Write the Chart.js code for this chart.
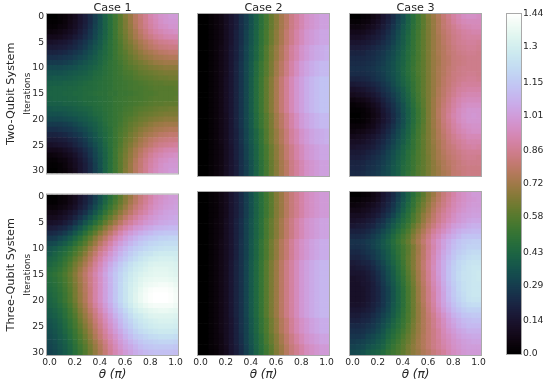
<!DOCTYPE html>
<html>
<head>
<meta charset="utf-8">
<style>
    html, body { margin: 0; padding: 0; background: #fff; }
    body { position: relative; width: 550px; height: 382px; overflow: hidden; }
    canvas { position: absolute; filter: blur(0.35px); }
</style>
<script src="https://cdn.jsdelivr.net/npm/chart.js@4/dist/chart.umd.min.js"></script>
</head>
<body>
<canvas id="twoCase1"></canvas>
<canvas id="twoCase2"></canvas>
<canvas id="twoCase3"></canvas>
<canvas id="threeCase1"></canvas>
<canvas id="threeCase2"></canvas>
<canvas id="threeCase3"></canvas>
<canvas id="colorbar"></canvas>
<script>
// axis labels
const iterationLabels = ['0','1','2','3','4','5','6','7','8','9','10','11','12','13','14','15','16','17','18','19','20','21','22','23','24','25','26','27','28','29','30'];
const thetaTickColumns = [0, 5, 10, 15, 20, 25];
const thetaTickLabels = ['0.0', '0.2', '0.4', '0.6', '0.8', '1.0'];
const colorbarTicks = [0.0, 0.14, 0.29, 0.43, 0.58, 0.72, 0.86, 1.01, 1.15, 1.3, 1.44];
const colorbarTickLabels = ['0.0', '0.14', '0.29', '0.43', '0.58', '0.72', '0.86', '1.01', '1.15', '1.3', '1.44'];
const colorbarMax = 1.44;

const twoCase1Half = [
[0,0,2,3,6,9,14,18,23,29,34,41,47,53,59,66,71,77,82,86,91,94,97,98,100,100],
[1,1,2,4,7,10,14,18,23,29,35,41,47,53,59,65,71,77,81,86,90,93,96,98,99,99],
[2,2,4,5,8,11,15,19,24,30,35,41,47,53,59,65,70,76,81,85,89,92,95,96,98,98],
[4,5,6,8,10,13,17,21,26,31,36,41,47,53,59,64,69,74,79,83,87,90,92,94,95,96],
[8,8,9,11,13,16,19,23,27,32,37,42,47,53,58,63,68,73,77,81,84,87,89,91,92,92],
[12,13,14,15,17,20,23,26,30,34,38,43,48,52,57,62,66,70,74,77,80,83,85,86,87,88],
[16,16,17,18,20,22,25,28,32,36,39,44,48,52,56,61,64,68,72,75,78,80,82,83,84,84],
[20,20,21,22,24,26,28,31,34,37,41,44,48,52,56,59,63,66,69,72,74,76,78,79,80,80],
[24,24,25,26,27,29,31,33,36,39,42,45,48,52,55,58,61,64,67,69,71,73,74,75,76,76],
[28,28,28,29,30,32,34,36,38,40,43,46,49,51,54,57,60,62,64,66,68,70,71,72,72,72],
[32,32,32,33,34,35,37,38,40,42,44,47,49,51,53,56,58,60,62,63,65,66,67,68,68,68],
[35,35,35,36,37,38,39,40,42,44,45,47,49,51,53,55,56,58,60,61,62,63,64,65,65,65],
[37,38,38,38,39,40,41,42,43,45,46,48,49,51,52,54,55,57,58,59,60,61,62,62,63,63],
[40,40,40,41,41,42,43,44,45,46,47,48,49,51,52,53,54,55,56,57,58,59,59,60,60,60],
[41,42,42,42,43,43,44,45,45,46,47,48,49,51,52,53,54,55,55,56,57,58,58,58,58,59],
[42,42,42,43,43,44,44,45,46,47,48,48,50,50,52,52,53,54,55,56,56,57,58,58,58,58]
];
const twoCase1Order = [0,1,2,3,4,5,6,7,8,9,10,11,12,13,14,15,14,13,12,11,10,9,8,7,6,5,4,3,2,1,0];

const twoCase2Bands = [
[0,0,2,4,6,10,14,18,24,29,35,41,48,54,61,67,73,78,84,88,92,96,98,100,102,102],
[0,0,2,4,6,10,14,19,24,30,36,42,49,55,62,68,74,80,85,90,94,98,100,102,104,104],
[0,0,2,4,7,10,15,19,25,31,37,43,50,57,64,70,76,82,88,92,97,100,103,105,106,107],
[0,0,2,4,7,10,15,20,26,32,38,45,52,58,65,72,78,84,90,95,100,103,106,108,110,110],
[0,0,2,4,7,11,15,20,26,32,39,46,53,60,67,74,81,87,93,98,102,106,109,111,113,113]
];
const twoCase2Order = [0,0,0,1,1,1,2,2,2,3,3,3,4,4,4,4,4,4,4,3,3,3,2,2,2,1,1,1,0,0,0];

const twoCase3 = [
[0,0,2,3,6,9,14,18,23,29,34,41,47,53,59,66,71,76,81,85,89,92,95,96,96,95],
[2,2,4,5,8,11,15,19,24,30,35,41,47,53,59,65,70,75,80,84,88,91,93,94,94,94],
[5,5,6,8,10,13,17,21,26,31,37,42,48,53,59,65,70,75,80,83,86,89,91,92,93,93],
[8,8,9,11,13,16,19,23,28,33,38,43,49,54,60,65,70,75,79,82,85,87,89,90,91,91],
[11,11,12,14,16,18,21,25,29,34,39,44,49,54,60,65,70,74,78,81,84,86,88,89,89,89],
[14,14,15,16,18,20,23,26,30,35,39,44,50,55,60,65,70,74,78,81,84,86,87,88,88,87],
[17,17,18,19,21,23,25,28,32,36,40,45,50,55,60,65,70,74,77,80,83,85,86,87,87,86],
[20,20,20,22,23,25,27,30,33,37,41,46,50,55,60,65,70,74,77,80,82,84,85,86,86,85],
[22,22,22,23,24,26,28,31,34,38,42,46,51,55,60,65,70,73,77,79,82,83,84,85,85,85],
[23,23,23,24,25,27,29,32,35,39,42,47,51,56,60,65,70,73,77,79,82,83,84,85,85,85],
[24,24,24,25,26,28,30,32,35,39,43,47,52,56,60,65,70,74,77,80,82,84,85,85,85,85],
[23,23,23,24,25,27,29,32,35,38,43,47,51,56,60,65,70,74,77,80,83,84,85,86,86,85],
[20,20,21,22,24,26,28,31,34,38,42,46,51,55,60,65,70,74,78,81,83,85,86,87,87,86],
[16,17,18,19,21,23,26,29,33,37,41,45,50,55,60,65,70,74,78,81,84,86,88,88,88,88],
[12,13,14,16,18,21,24,27,31,35,39,44,50,55,60,65,70,75,79,82,85,88,89,90,90,90],
[9,10,11,13,15,18,22,25,29,33,38,43,49,54,60,65,70,75,79,83,86,89,91,92,92,92],
[5,6,7,9,12,15,19,23,27,32,37,42,48,54,59,65,71,76,80,84,88,91,93,94,94,94],
[2,3,4,6,9,12,17,21,25,30,35,41,47,53,59,65,71,76,81,85,89,92,95,96,96,96],
[1,1,2,4,7,10,15,19,24,29,35,40,46,52,58,65,71,77,82,86,90,94,96,98,98,98],
[0,0,2,3,6,9,14,18,23,28,34,40,46,52,58,65,71,77,82,87,91,94,97,98,99,98],
[1,1,2,4,7,10,14,18,23,29,34,40,46,52,58,65,71,76,82,86,90,94,96,98,98,98],
[3,3,4,6,8,12,16,20,25,30,35,41,47,53,59,65,71,76,81,85,89,92,95,96,97,97],
[5,6,7,9,11,14,18,22,27,32,37,42,48,54,59,65,70,75,80,84,88,91,93,95,96,96],
[8,9,10,12,14,17,20,24,29,33,38,43,49,54,60,65,70,75,79,83,86,89,91,93,93,93],
[11,11,12,14,16,19,22,26,30,35,39,44,50,55,60,65,70,74,78,82,85,87,89,91,91,91],
[13,14,15,16,18,21,24,28,32,36,41,45,50,55,60,65,69,74,78,81,83,86,88,89,90,89],
[16,16,17,19,21,23,26,30,34,38,42,47,51,56,60,65,69,73,77,80,82,84,86,87,87,87],
[18,18,19,21,23,25,28,31,35,39,43,47,52,56,60,64,69,73,76,79,81,83,85,86,86,85],
[20,20,21,23,24,26,29,32,36,40,44,48,52,56,60,64,68,72,75,78,80,82,84,85,85,85],
[21,21,22,24,25,27,30,33,37,40,45,48,52,57,60,64,68,71,75,77,80,82,83,84,84,84],
[22,22,23,25,26,28,31,33,37,40,45,49,53,57,60,64,68,71,74,76,80,81,83,84,84,84]
];

const threeCase1 = [
[0,0,2,3,6,9,14,18,23,29,35,41,47,53,59,66,71,77,82,86,90,94,96,98,100,100],
[1,1,3,4,7,10,15,19,24,30,36,43,49,55,61,67,73,78,83,87,91,95,97,99,100,101],
[3,3,5,6,9,12,17,21,27,33,39,46,52,58,64,70,76,81,85,89,93,96,98,100,101,102],
[6,6,8,10,13,16,21,25,31,37,43,50,56,62,68,74,79,84,88,91,95,98,100,102,103,103],
[9,9,11,13,16,20,25,30,36,42,48,55,61,67,73,79,84,88,92,95,98,100,102,103,104,105],
[12,13,14,17,20,25,30,36,41,47,53,60,66,72,78,84,88,92,95,98,100,102,104,105,106,106],
[17,18,20,22,26,31,36,42,48,54,60,67,73,79,85,90,94,98,100,103,105,107,108,109,110,110],
[22,23,25,28,32,37,42,48,54,60,67,73,79,85,91,96,100,103,106,108,110,112,113,114,114,114],
[27,28,31,34,38,43,48,54,60,67,73,79,85,91,96,101,105,108,111,113,115,116,118,118,119,119],
[32,33,36,39,43,48,53,58,65,71,78,84,90,96,101,105,109,112,115,117,119,120,121,122,122,122],
[36,38,41,44,48,53,58,63,70,76,83,88,94,100,105,109,113,116,118,120,122,123,124,125,125,125],
[38,41,44,47,51,56,61,67,74,80,87,92,98,103,108,112,116,119,122,124,125,127,128,128,128,128],
[41,43,46,50,54,60,65,71,77,84,90,96,101,106,111,115,119,122,125,127,129,130,131,131,131,130],
[43,45,48,52,57,63,68,74,80,87,93,99,105,110,115,119,123,126,128,130,132,133,133,133,133,132],
[45,47,50,54,59,65,71,77,83,89,95,101,107,112,117,121,125,128,130,132,134,135,135,135,134,133],
[47,49,52,56,61,67,73,79,85,91,97,103,109,114,119,123,127,130,132,134,135,136,136,136,135,134],
[46,48,51,55,60,66,72,78,84,90,96,102,108,114,119,124,128,131,134,136,137,138,138,138,137,136],
[45,47,50,54,59,65,71,77,84,90,96,102,108,114,120,125,129,132,135,138,139,140,141,141,140,138],
[44,46,49,53,58,64,71,77,83,90,96,102,108,114,120,125,130,133,137,140,142,143,143,143,142,140],
[43,45,48,52,57,64,70,76,83,90,96,102,108,114,120,125,130,134,138,141,143,144,144,144,143,141],
[42,44,48,52,57,63,70,76,83,90,96,102,108,114,120,125,130,134,138,141,143,144,144,144,143,141],
[41,43,46,50,55,61,68,74,81,88,94,100,106,112,118,123,128,132,135,138,140,141,141,141,141,139],
[39,41,44,48,53,59,66,72,79,85,92,98,104,110,115,120,125,129,132,134,136,137,138,138,137,136],
[38,40,43,47,52,57,64,70,76,83,89,95,101,107,112,117,122,126,128,131,133,134,134,134,134,133],
[36,38,41,45,50,55,62,68,74,81,87,93,99,104,110,115,119,123,126,128,130,131,132,132,132,131],
[35,37,40,44,49,54,60,66,72,79,85,91,97,102,108,113,117,121,124,126,128,129,130,130,130,129],
[34,36,39,43,47,52,58,64,70,77,83,89,95,100,105,110,114,118,121,123,125,126,127,127,127,126],
[33,35,38,41,46,51,56,62,68,75,81,87,92,97,102,107,111,115,117,119,121,122,123,123,123,122],
[32,34,37,40,44,49,55,60,66,72,78,84,90,95,100,104,108,111,114,116,117,118,119,119,119,118],
[31,33,36,39,43,48,53,58,64,70,76,82,88,93,98,102,105,108,111,113,114,115,115,115,115,114],
[30,32,35,38,42,47,52,57,63,69,75,81,87,92,96,100,103,106,108,110,111,112,112,112,112,111]
];

const threeCase2Bands = [
[0,0,2,3,6,9,14,18,23,29,35,41,47,53,59,66,71,77,82,86,90,94,96,98,100,100],
[0,0,2,4,6,10,14,19,24,30,36,42,48,55,61,67,73,79,84,89,93,97,99,101,103,103],
[0,0,2,4,7,10,14,19,25,30,37,43,50,56,63,69,76,81,87,92,96,99,102,104,106,106],
[0,0,2,4,7,10,15,20,25,31,38,44,51,58,65,71,78,84,89,94,99,102,105,107,109,109]
];
const threeCase2Order = [0,0,0,0,0,1,1,1,1,2,2,2,2,3,3,3,3,3,3,3,3,3,3,3,2,2,2,1,1,0,0];

const threeCase3 = [
[0,0,2,3,6,9,14,18,23,29,35,41,47,53,59,66,71,77,82,86,90,94,96,98,100,100],
[2,2,4,5,7,10,15,19,24,30,36,42,49,55,61,67,73,78,83,87,91,94,96,98,99,100],
[4,5,6,8,10,13,17,21,26,32,38,44,50,57,63,69,75,80,84,88,92,95,97,99,100,100],
[7,7,9,10,13,15,19,23,28,34,40,46,52,59,65,71,77,82,86,90,93,96,98,100,101,101],
[10,10,11,13,15,18,22,26,31,37,43,48,55,61,68,73,79,84,88,91,95,98,100,101,102,102],
[12,13,14,16,18,22,25,30,35,40,45,50,56,62,69,75,80,85,89,93,96,99,101,103,104,104],
[15,16,17,19,21,25,28,33,38,43,48,53,60,66,72,78,83,88,92,96,100,102,104,106,107,107],
[19,19,20,22,25,28,32,36,41,46,51,56,63,69,75,81,87,91,95,99,103,106,108,109,110,110],
[22,22,23,25,28,31,35,39,44,49,54,59,66,72,78,84,90,94,99,103,106,109,112,113,113,113],
[25,25,26,28,30,33,37,41,46,51,56,61,68,74,80,86,92,97,102,106,110,113,115,116,117,117],
[24,24,25,27,30,33,37,40,45,49,54,59,65,72,78,85,91,97,102,107,111,114,116,118,118,118],
[22,22,24,26,28,31,35,39,44,49,54,59,66,72,79,86,92,98,104,108,113,116,118,120,121,121],
[20,20,22,24,27,30,34,38,43,48,54,60,66,73,79,86,93,99,105,110,114,118,120,122,123,123],
[17,18,20,21,24,28,32,37,42,47,53,60,66,73,80,87,93,100,106,111,116,120,122,124,125,125],
[15,16,17,19,22,26,30,35,40,46,52,59,66,73,80,87,94,100,106,112,117,120,123,125,126,126],
[14,14,15,17,20,24,29,34,39,45,51,58,65,72,79,86,93,100,106,112,117,121,124,125,126,127],
[12,13,14,16,19,23,28,33,38,44,50,57,64,72,79,86,93,99,106,112,117,121,124,125,126,127],
[12,12,14,15,18,22,27,32,37,43,49,56,63,71,78,85,92,98,105,111,116,120,123,125,126,126],
[12,12,13,15,18,21,26,30,36,42,48,55,62,70,77,84,91,97,104,110,115,120,123,125,126,126],
[12,12,13,15,18,21,26,30,36,42,48,55,62,70,77,84,90,97,103,110,115,119,122,125,126,126],
[12,12,13,15,18,21,26,30,36,42,48,55,62,70,77,84,90,97,103,109,114,118,121,124,125,125],
[13,13,14,16,19,22,26,31,37,42,48,55,62,69,76,83,89,96,102,107,112,116,119,121,122,122],
[15,15,16,18,20,24,28,32,38,43,49,55,62,69,75,82,88,94,100,105,110,113,116,118,118,118],
[17,17,19,20,23,26,30,34,39,44,50,56,62,69,75,81,86,92,97,102,107,110,113,114,115,115],
[19,19,21,22,25,28,32,36,41,46,51,56,63,69,75,80,85,90,95,100,104,107,110,111,112,112],
[22,22,23,25,27,30,34,38,43,47,52,58,64,70,75,80,85,90,94,99,102,106,108,110,110,110],
[24,24,25,27,29,32,36,41,45,49,54,59,65,70,75,80,84,88,93,97,100,103,105,107,107,107],
[26,26,27,30,32,35,38,43,47,51,56,61,66,71,76,80,84,88,92,95,98,101,103,104,105,105],
[28,29,30,32,34,37,40,45,49,53,58,62,67,72,76,80,84,87,91,94,97,99,101,102,103,103],
[30,31,32,35,37,39,42,47,51,55,59,64,68,72,76,80,84,87,90,93,96,98,100,101,101,101],
[32,33,35,38,40,42,45,50,53,56,60,64,68,71,75,78,82,85,88,92,95,97,99,100,100,100]
];

const FONT = '"DejaVu Sans", sans-serif';
const TEXT_COLOR = '#262626';
const SPINE_COLOR = '#a9a9a9';
const PLOT_W = 131;

// matplotlib's default cubehelix map
function cubehelix(t) {
    t = Math.min(1, Math.max(0, t));
    const a = t * (1 - t) / 2;
    const phi = 2 * Math.PI * (0.5 / 3 - 1.5 * t);
    const c = Math.cos(phi);
    const s = Math.sin(phi);
    const r = t + a * (-0.14861 * c + 1.78277 * s);
    const g = t + a * (-0.29227 * c - 0.90649 * s);
    const b = t + a * (1.97294 * c);
    const to255 = (v) => Math.round(Math.min(1, Math.max(0, v)) * 255);
    return `rgb(${to255(r)},${to255(g)},${to255(b)})`;
}

const spinePlugin = {
    id: 'spine',
    afterDraw(chart) {
        const area = chart.chartArea;
        const ctx = chart.ctx;
        ctx.save();
        ctx.strokeStyle = SPINE_COLOR;
        ctx.lineWidth = 1;
        ctx.strokeRect(area.left - 0.5, area.top - 0.5, area.right - area.left + 1, area.bottom - area.top + 1);
        ctx.restore();
    }
};

const rowLabelPlugin = {
    id: 'rowLabel',
    afterDraw(chart, args, options) {
        if (!options.text) {
            return;
        }
        const area = chart.chartArea;
        const ctx = chart.ctx;
        ctx.save();
        ctx.translate(11, (area.top + area.bottom) / 2);
        ctx.rotate(-Math.PI / 2);
        ctx.font = `11.3px ${FONT}`;
        ctx.fillStyle = TEXT_COLOR;
        ctx.textAlign = 'center';
        ctx.textBaseline = 'middle';
        ctx.fillText(options.text, 0, 0);
        ctx.restore();
    }
};

function place(canvas, left, top, width, height) {
    canvas.width = width;
    canvas.height = height;
    canvas.style.left = left + 'px';
    canvas.style.top = top + 'px';
    canvas.style.width = width + 'px';
    canvas.style.height = height + 'px';
}

function buildDatasets(rows) {
    const datasets = [];
    for (let col = 0; col < rows[0].length; col++) {
        datasets.push({
            data: rows.map(() => [col - 0.5, col + 0.5]),
            backgroundColor: rows.map((row) => cubehelix(row[col] / 100 / colorbarMax)),
            borderWidth: 0,
            grouped: false,
            barPercentage: 1,
            categoryPercentage: 1
        });
    }
    return datasets;
}

function drawPanel(id, rows, opts) {
    const canvas = document.getElementById(id);
    const padLeft = opts.firstColumn ? 22 : 8;
    const axisW = opts.firstColumn ? 25 : 0;
    const top = opts.topRow ? 0 : 186;
    const height = opts.topRow ? 182 : 196;
    const width = padLeft + axisW + PLOT_W + 8;
    place(canvas, opts.plotLeft - padLeft - axisW, top, width, height);

    new Chart(canvas.getContext('2d'), {
        type: 'bar',
        data: { labels: iterationLabels, datasets: buildDatasets(rows) },
        plugins: [spinePlugin, rowLabelPlugin],
        options: {
            responsive: false,
            animation: false,
            indexAxis: 'y',
            devicePixelRatio: 1,
            layout: {
                padding: { left: padLeft, right: 8, top: opts.topRow ? 0 : 6, bottom: opts.topRow ? 6 : 0 }
            },
            scales: {
                x: {
                    type: 'linear',
                    display: !opts.topRow,
                    min: -0.5,
                    max: 25.5,
                    grid: { display: false, drawTicks: false },
                    border: { display: false },
                    afterBuildTicks(scale) {
                        scale.ticks = thetaTickColumns.map((value) => ({ value: value }));
                    },
                    afterFit(scale) {
                        if (!opts.topRow) {
                            scale.height = 27;
                        }
                    },
                    ticks: {
                        autoSkip: false,
                        maxRotation: 0,
                        padding: 2,
                        color: TEXT_COLOR,
                        font: { family: FONT, size: 9.2 },
                        callback(value, index) {
                            return thetaTickLabels[index];
                        }
                    },
                    title: {
                        display: true,
                        text: 'θ (π)',
                        color: TEXT_COLOR,
                        padding: 0,
                        font: { family: FONT, size: 12, style: 'italic', lineHeight: 1.2 }
                    }
                },
                y: {
                    type: 'category',
                    display: opts.firstColumn,
                    grid: { display: false, drawTicks: false },
                    border: { display: false },
                    afterFit(scale) {
                        if (opts.firstColumn) {
                            scale.width = axisW;
                        }
                    },
                    ticks: {
                        autoSkip: false,
                        maxRotation: 0,
                        padding: 3,
                        color: TEXT_COLOR,
                        font: { family: FONT, size: 9.2 },
                        callback(value, index) {
                            return index % 5 === 0 ? iterationLabels[index] : '';
                        }
                    },
                    title: {
                        display: true,
                        text: 'Iterations',
                        color: TEXT_COLOR,
                        padding: 0,
                        font: { family: FONT, size: 8.8, lineHeight: 1.2 }
                    }
                }
            },
            plugins: {
                legend: { display: false },
                tooltip: { enabled: false },
                rowLabel: { text: opts.rowLabel },
                title: {
                    display: opts.topRow,
                    fullSize: false,
                    text: opts.title,
                    color: TEXT_COLOR,
                    padding: { top: 3, bottom: 0 },
                    font: { family: FONT, size: 11.2, weight: 'normal', lineHeight: '11px' }
                }
            }
        }
    });
}

function drawColorbar() {
    const canvas = document.getElementById('colorbar');
    place(canvas, 495, 0, 55, 370);
    const datasets = [];
    const steps = 170;
    for (let i = 0; i < steps; i++) {
        datasets.push({
            data: [[colorbarMax * i / steps, colorbarMax * (i + 1) / steps]],
            backgroundColor: cubehelix((i + 0.5) / steps),
            borderWidth: 0,
            grouped: false,
            barPercentage: 1,
            categoryPercentage: 1
        });
    }
    new Chart(canvas.getContext('2d'), {
        type: 'bar',
        data: { labels: ['value'], datasets: datasets },
        plugins: [spinePlugin],
        options: {
            responsive: false,
            animation: false,
            devicePixelRatio: 1,
            layout: { padding: { left: 12, right: 0, top: 14, bottom: 16 } },
            scales: {
                x: { display: false },
                y: {
                    position: 'right',
                    min: 0,
                    max: colorbarMax,
                    grid: { display: false, drawTicks: false },
                    border: { display: false },
                    afterBuildTicks(scale) {
                        scale.ticks = colorbarTicks.map((value) => ({ value: value }));
                    },
                    afterFit(scale) {
                        scale.width = 29;
                    },
                    ticks: {
                        padding: 2,
                        color: TEXT_COLOR,
                        font: { family: FONT, size: 9.2 },
                        callback(value, index) {
                            return colorbarTickLabels[index];
                        }
                    }
                }
            },
            plugins: { legend: { display: false }, tooltip: { enabled: false } }
        }
    });
}

const twoCase1 = twoCase1Order.map((i) => twoCase1Half[i]);
const twoCase2 = twoCase2Order.map((i) => twoCase2Bands[i]);
const threeCase2 = threeCase2Order.map((i) => threeCase2Bands[i]);

drawPanel('twoCase1', twoCase1, { plotLeft: 47, topRow: true, firstColumn: true, title: 'Case 1', rowLabel: 'Two-Qubit System' });
drawPanel('twoCase2', twoCase2, { plotLeft: 198, topRow: true, firstColumn: false, title: 'Case 2' });
drawPanel('twoCase3', twoCase3, { plotLeft: 350, topRow: true, firstColumn: false, title: 'Case 3' });
drawPanel('threeCase1', threeCase1, { plotLeft: 47, topRow: false, firstColumn: true, rowLabel: 'Three-Qubit System' });
drawPanel('threeCase2', threeCase2, { plotLeft: 198, topRow: false, firstColumn: false });
drawPanel('threeCase3', threeCase3, { plotLeft: 350, topRow: false, firstColumn: false });
drawColorbar();
</script>
</body>
</html>
